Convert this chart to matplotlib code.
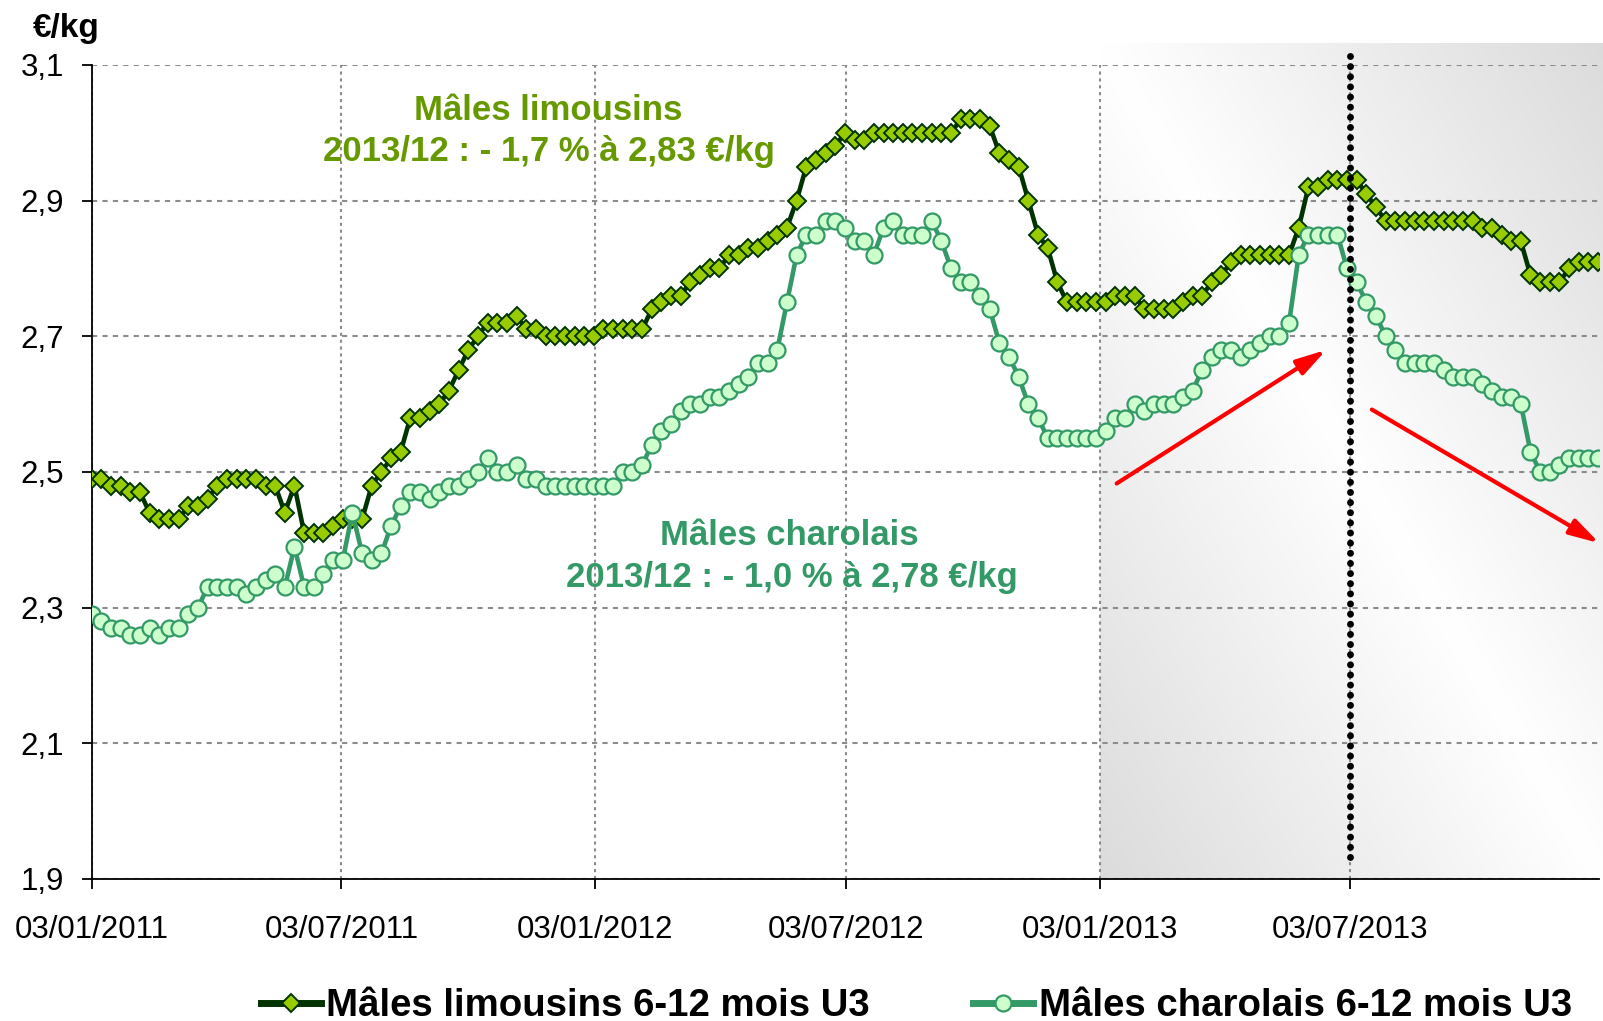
"""
Prix des mâles 6-12 mois U3 (limousins / charolais), 2011-2013.
"""

import matplotlib

matplotlib.use("Agg")
import matplotlib.dates as mdates
import matplotlib.pyplot as plt
import numpy as np
import pandas as pd

plt.rcParams["font.family"] = ["Liberation Sans", "DejaVu Sans"]

# une cotation par semaine, à partir du lundi 03/01/2011
semaines = pd.date_range("2011-01-03", periods=157, freq="7D")

limousins = [
    2.49, 2.49, 2.48, 2.48, 2.47, 2.47, 2.44, 2.43, 2.43, 2.43,
    2.45, 2.45, 2.46, 2.48, 2.49, 2.49, 2.49, 2.49, 2.48, 2.48,
    2.44, 2.48, 2.41, 2.41, 2.41, 2.42, 2.43, 2.43, 2.43, 2.48,
    2.50, 2.52, 2.53, 2.58, 2.58, 2.59, 2.60, 2.62, 2.65, 2.68,
    2.70, 2.72, 2.72, 2.72, 2.73, 2.71, 2.71, 2.70, 2.70, 2.70,
    2.70, 2.70, 2.70, 2.71, 2.71, 2.71, 2.71, 2.71, 2.74, 2.75,
    2.76, 2.76, 2.78, 2.79, 2.80, 2.80, 2.82, 2.82, 2.83, 2.83,
    2.84, 2.85, 2.86, 2.90, 2.95, 2.96, 2.97, 2.98, 3.00, 2.99,
    2.99, 3.00, 3.00, 3.00, 3.00, 3.00, 3.00, 3.00, 3.00, 3.00,
    3.02, 3.02, 3.02, 3.01, 2.97, 2.96, 2.95, 2.90, 2.85, 2.83,
    2.78, 2.75, 2.75, 2.75, 2.75, 2.75, 2.76, 2.76, 2.76, 2.74,
    2.74, 2.74, 2.74, 2.75, 2.76, 2.76, 2.78, 2.79, 2.81, 2.82,
    2.82, 2.82, 2.82, 2.82, 2.82, 2.86, 2.92, 2.92, 2.93, 2.93,
    2.93, 2.93, 2.91, 2.89, 2.87, 2.87, 2.87, 2.87, 2.87, 2.87,
    2.87, 2.87, 2.87, 2.87, 2.86, 2.86, 2.85, 2.84, 2.84, 2.79,
    2.78, 2.78, 2.78, 2.80, 2.81, 2.81, 2.81,
]

charolais = [
    2.29, 2.28, 2.27, 2.27, 2.26, 2.26, 2.27, 2.26, 2.27, 2.27,
    2.29, 2.30, 2.33, 2.33, 2.33, 2.33, 2.32, 2.33, 2.34, 2.35,
    2.33, 2.39, 2.33, 2.33, 2.35, 2.37, 2.37, 2.44, 2.38, 2.37,
    2.38, 2.42, 2.45, 2.47, 2.47, 2.46, 2.47, 2.48, 2.48, 2.49,
    2.50, 2.52, 2.50, 2.50, 2.51, 2.49, 2.49, 2.48, 2.48, 2.48,
    2.48, 2.48, 2.48, 2.48, 2.48, 2.50, 2.50, 2.51, 2.54, 2.56,
    2.57, 2.59, 2.60, 2.60, 2.61, 2.61, 2.62, 2.63, 2.64, 2.66,
    2.66, 2.68, 2.75, 2.82, 2.85, 2.85, 2.87, 2.87, 2.86, 2.84,
    2.84, 2.82, 2.86, 2.87, 2.85, 2.85, 2.85, 2.87, 2.84, 2.80,
    2.78, 2.78, 2.76, 2.74, 2.69, 2.67, 2.64, 2.60, 2.58, 2.55,
    2.55, 2.55, 2.55, 2.55, 2.55, 2.56, 2.58, 2.58, 2.60, 2.59,
    2.60, 2.60, 2.60, 2.61, 2.62, 2.65, 2.67, 2.68, 2.68, 2.67,
    2.68, 2.69, 2.70, 2.70, 2.72, 2.82, 2.85, 2.85, 2.85, 2.85,
    2.80, 2.78, 2.75, 2.73, 2.70, 2.68, 2.66, 2.66, 2.66, 2.66,
    2.65, 2.64, 2.64, 2.64, 2.63, 2.62, 2.61, 2.61, 2.60, 2.53,
    2.50, 2.50, 2.51, 2.52, 2.52, 2.52, 2.52,
]

y_ticks = [1.9, 2.1, 2.3, 2.5, 2.7, 2.9, 3.1]
y_labels = ["1,9", "2,1", "2,3", "2,5", "2,7", "2,9", "3,1"]
x_ticks = ["2011-01-03", "2011-07-03", "2012-01-03",
           "2012-07-03", "2013-01-03", "2013-07-03"]
x_labels = ["03/01/2011", "03/07/2011", "03/01/2012",
            "03/07/2012", "03/01/2013", "03/07/2013"]

# repères : début de la zone grisée, pivot, flèches de tendance
debut_zone = pd.Timestamp("2013-01-03")
fin_zone = pd.Timestamp("2014-01-03")
pivot = pd.Timestamp("2013-07-03")
fleche_hausse = (("2013-01-15", 2.483), ("2013-06-16", 2.680))
fleche_baisse = (("2013-07-19", 2.592), ("2013-12-31", 2.395))

VERT_FONCE = "#003300"
VERT_LIMOUSIN = "#99cc00"
VERT_CHAROLAIS = "#339966"


def main() -> None:
    fig = plt.figure(figsize=(16.03, 10.21), dpi=100)
    ax = fig.add_axes([0.0572, 0.1391, 0.9406, 0.7973])

    # fond dégradé gris -> blanc -> gris sur la dernière année
    u = np.linspace(0, 1, 300)
    w = np.linspace(1, 0, 300)
    U, W = np.meshgrid(u, w)
    gris = 1 - 0.14 * np.abs(U + W - 1)
    im = ax.imshow(
        np.dstack([gris, gris, gris]),
        extent=[mdates.date2num(debut_zone), mdates.date2num(fin_zone), 1.9, 3.131],
        aspect="auto", interpolation="bilinear", zorder=0,
    )
    im.set_clip_on(False)

    ax.plot(semaines, limousins, color=VERT_FONCE, lw=3.3, marker="D", ms=9.2,
            mfc=VERT_LIMOUSIN, mec=VERT_FONCE, mew=1.4, zorder=3,
            label="Mâles limousins 6-12 mois U3")
    ax.plot(semaines, charolais, color=VERT_CHAROLAIS, lw=3.3, marker="o", ms=11.5,
            mfc="#ccffcc", mec=VERT_CHAROLAIS, mew=1.6, zorder=4,
            label="Mâles charolais 6-12 mois U3")

    ax.plot([pivot, pivot], [1.932, 3.121], color="black", lw=5,
            linestyle=(0, (0.01, 1.45)), dash_capstyle="round",
            clip_on=False, zorder=5)

    for (d0, v0), (d1, v1) in (fleche_hausse, fleche_baisse):
        ax.annotate(
            "", xy=(pd.Timestamp(d1), v1), xytext=(pd.Timestamp(d0), v0),
            arrowprops=dict(arrowstyle="-|>,head_length=0.9,head_width=0.25",
                            color="red", lw=3, shrinkA=0, shrinkB=0,
                            mutation_scale=20),
            annotation_clip=False, zorder=6,
        )

    ax.set_xlim(pd.Timestamp("2011-01-03"), pd.Timestamp("2013-12-31"))
    ax.set_ylim(1.9, 3.1)
    ax.set_yticks(y_ticks)
    ax.set_yticklabels(y_labels)
    ax.set_xticks([pd.Timestamp(d) for d in x_ticks])
    ax.set_xticklabels(x_labels)

    ax.yaxis.grid(True, color="#8c8c8c", lw=1.5, linestyle=(0, (2.5, 2.5)))
    ax.xaxis.grid(True, color="#8c8c8c", lw=1.5, linestyle=(0, (1.5, 1.8)))
    ax.set_axisbelow(True)
    for side in ("top", "right"):
        ax.spines[side].set_visible(False)
    for side in ("left", "bottom"):
        ax.spines[side].set_linewidth(1.3)
    ax.tick_params(axis="both", direction="out", length=7, width=1.3,
                   labelsize=22.5)
    ax.tick_params(axis="y", pad=13)
    ax.tick_params(axis="x", pad=19)

    fig.text(0.0206, 0.964, "€/kg", weight="bold", size=24, va="baseline")

    fig.text(0.342, 0.8825, "Mâles limousins", color="#669900",
             weight="bold", size=25, ha="center", va="baseline")
    fig.text(0.3425, 0.8423, "2013/12 : - 1,7 % à 2,83 €/kg", color="#669900",
             weight="bold", size=25, ha="center", va="baseline")
    fig.text(0.4923, 0.4662, "Mâles charolais", color=VERT_CHAROLAIS,
             weight="bold", size=25, ha="center", va="baseline")
    fig.text(0.4942, 0.425, "2013/12 : - 1,0 % à 2,78 €/kg", color=VERT_CHAROLAIS,
             weight="bold", size=25, ha="center", va="baseline")

    leg = fig.legend(loc="center", bbox_to_anchor=(0.5717, 0.0146), ncol=2,
                     frameon=False, prop=dict(weight="bold", size=27.6),
                     handlelength=1.55, handletextpad=0.15, columnspacing=2.7)
    for ligne in leg.get_lines():
        ligne.set_linewidth(5)

    fig.savefig("out.png", dpi=100)
    plt.close(fig)


if __name__ == "__main__":
    main()
